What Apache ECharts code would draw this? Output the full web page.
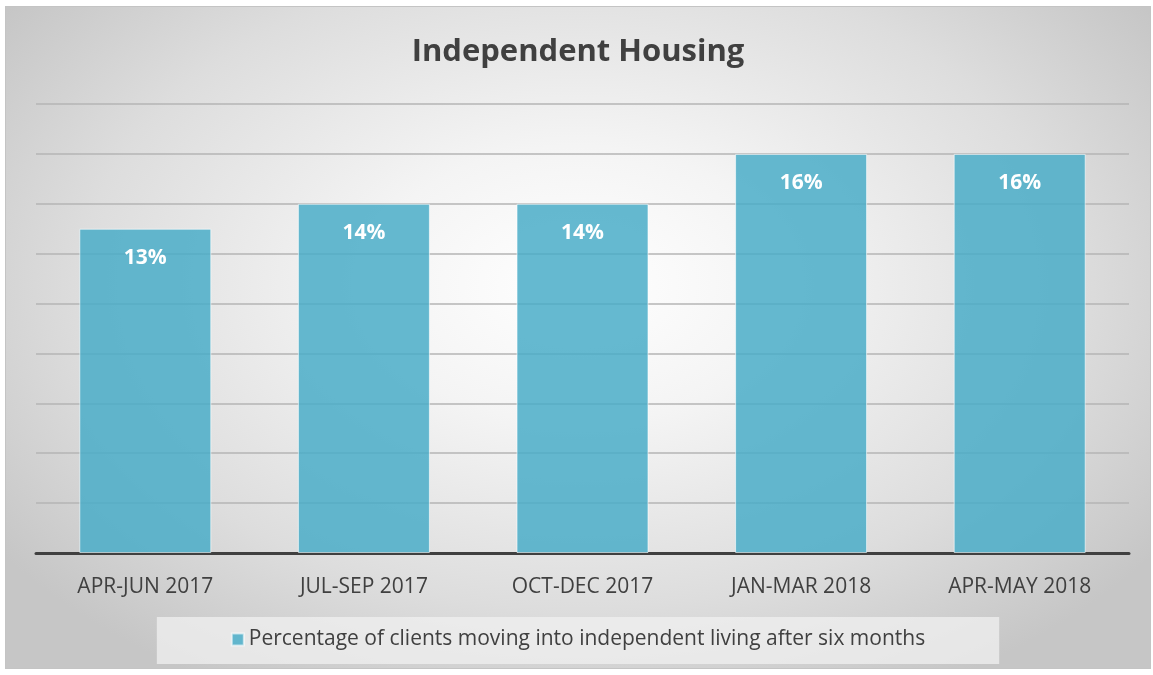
<!DOCTYPE html>
<html>
<head>
<meta charset="utf-8">
<script src="https://cdn.jsdelivr.net/npm/echarts@6/dist/echarts.min.js"></script>
<style>
  html, body { margin: 0; padding: 0; background: #fff; }
  #main {
    position: absolute;
    left: 5px;
    top: 6px;
    width: 1144px;
    height: 661px;
    border: 1px solid #c4c4c4;
    background: radial-gradient(ellipse 62% 70% at 50% 42%, #ffffff 0%, #f4f4f4 30%, #dddddd 70%, #c6c6c6 100%);
  }
</style>
</head>
<body>
<div id="main"></div>
<script>
// 数据
const categories = ["APR-JUN 2017", "JUL-SEP 2017", "OCT-DEC 2017", "JAN-MAR 2018", "APR-MAY 2018"];
const values = [13, 14, 14, 16, 16];
const seriesName = "Percentage of clients moving into independent living after six months";

const myChart = echarts.init(document.getElementById("main"));
const option = {
  textStyle: { fontFamily: "Open Sans" },
  title: {
    text: "Independent Housing",
    left: "center",
    top: 25,
    textStyle: { color: "#404040", fontSize: 31, fontWeight: "bold", fontFamily: "Open Sans" },
  },
  legend: {
    data: [seriesName],
    top: 610,
    left: "center",
    icon: "rect",
    itemWidth: 12,
    itemHeight: 12,
    itemGap: 6,
    padding: [12, 74, 14, 74],
    backgroundColor: "rgba(240,240,240,0.75)",
    textStyle: { color: "#404040", fontSize: 21, fontFamily: "Open Sans" },
  },
  grid: { left: 30, right: 21, top: 97, height: 449, containLabel: false },
  xAxis: {
    type: "category",
    data: categories,
    axisLine: { lineStyle: { color: "#404040", width: 3 } },
    axisTick: { show: false },
    axisLabel: { color: "#404040", fontSize: 21, margin: 24, fontFamily: "Open Sans" },
  },
  yAxis: {
    type: "value",
    min: 0,
    max: 18,
    interval: 2,
    axisLabel: { show: false },
    axisLine: { show: false },
    axisTick: { show: false },
    splitLine: { lineStyle: { color: "#b4b4b4", width: 1.5 } },
  },
  series: [
    {
      name: seriesName,
      type: "bar",
      data: values,
      barWidth: 132,
      itemStyle: {
        color: "rgba(74,173,200,0.85)",
        borderColor: "rgba(255,255,255,0.6)",
        borderWidth: 1,
      },
      label: {
        show: true,
        position: "insideTop",
        distance: 19,
        formatter: "{c}%",
        color: "#ffffff",
        fontSize: 21,
        fontWeight: "bold",
        fontFamily: "Open Sans",
      },
    },
  ],
};
myChart.setOption(option);
</script>
</body>
</html>
